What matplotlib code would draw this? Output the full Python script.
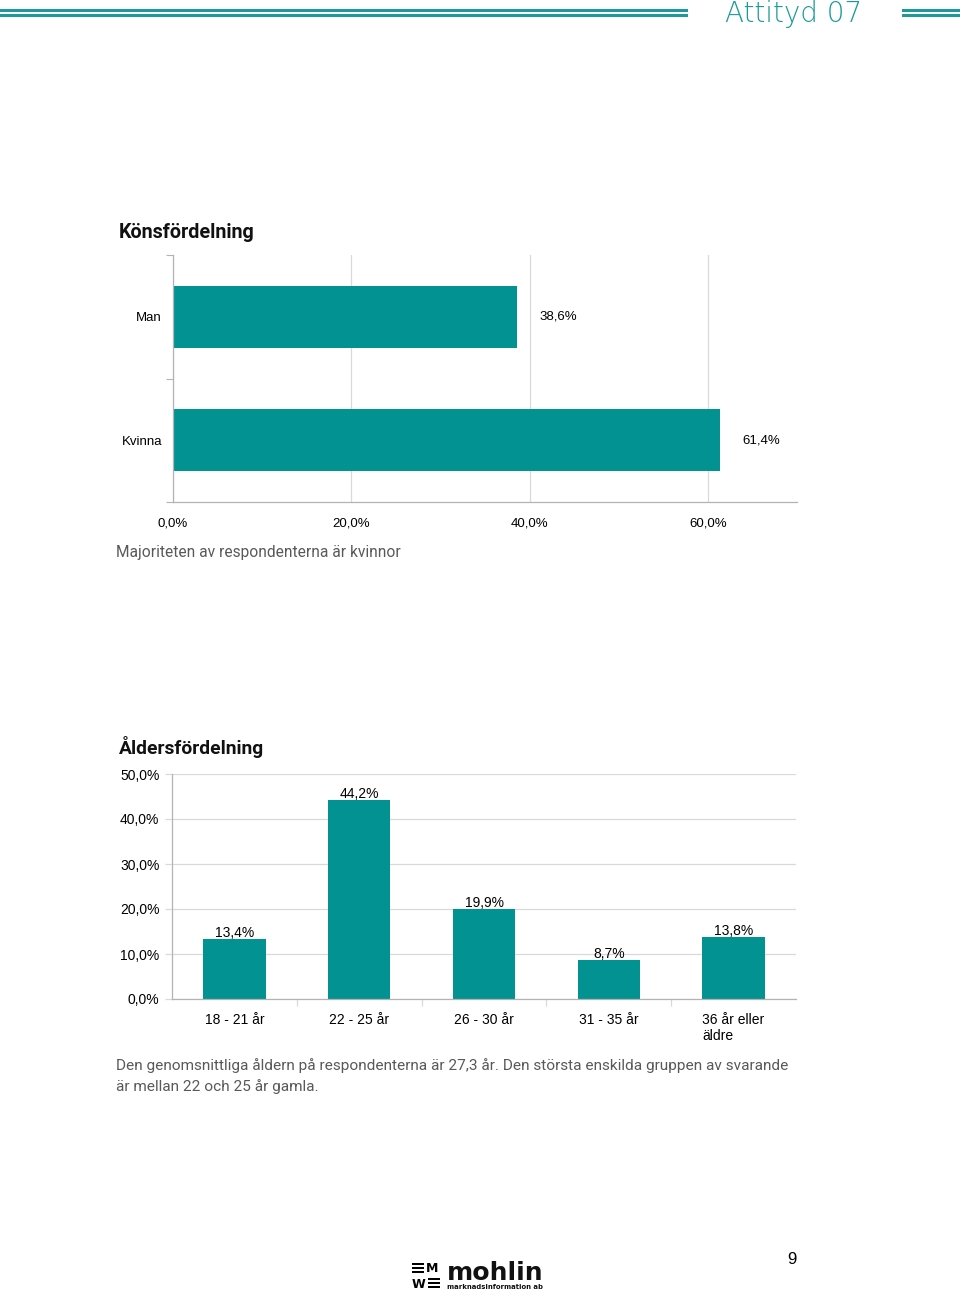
import matplotlib
matplotlib.use("Agg")
import matplotlib.pyplot as plt
from matplotlib.patches import Rectangle
from matplotlib.ticker import FixedLocator

# ---------------- data ----------------
gender_labels = ["Man", "Kvinna"]
gender_values = [38.6, 61.4]
gender_ticks = [0, 20, 40, 60]

age_labels = ["18 - 21 år", "22 - 25 år", "26 - 30 år", "31 - 35 år", "36 år eller\näldre"]
age_values = [13.4, 44.2, 19.9, 8.7, 13.8]
age_ticks = [0, 10, 20, 30, 40, 50]

title1 = "Könsfördelning"
title2 = "Åldersfördelning"
caption1 = "Majoriteten av respondenterna är kvinnor"
caption2_l1 = "Den genomsnittliga åldern på respondenterna är 27,3 år. Den största enskilda gruppen av svarande"
caption2_l2 = "är mellan 22 och 25 år gamla."
header_text = "Attityd 07"
page_no = "9"

W, H = 960, 1293
TEAL = "#029292"
HEAD = "#1b9a9a"
GRID = "#d9d9d9"
SPINE = "#b3b3b3"
CAPC = "#595959"
LBL = "Liberation Sans"

fig = plt.figure(figsize=(W / 100, H / 100), dpi=100)


def rect(x0, y0, x1, y1):
    return [x0 / W, 1 - y1 / H, (x1 - x0) / W, (y1 - y0) / H]


# overlay axes in pixel coordinates
ov = fig.add_axes([0, 0, 1, 1], zorder=0)
ov.set_xlim(0, W)
ov.set_ylim(H, 0)
ov.axis("off")

renderer = fig.canvas.get_renderer()


def fit_text(x, y, s, width, size0=10, **kw):
    t = ov.text(x, y, s, fontsize=size0, **kw)
    bb = t.get_window_extent(renderer=renderer)
    t.set_fontsize(size0 * width / bb.width)
    return t


# header
ov.add_patch(Rectangle((0, 8.5), 688, 3.5, color=HEAD, lw=0))
ov.add_patch(Rectangle((0, 14), 688, 2.5, color=HEAD, lw=0))
ov.add_patch(Rectangle((902, 8.5), 58, 3.5, color=HEAD, lw=0))
ov.add_patch(Rectangle((902, 14), 58, 2.5, color=HEAD, lw=0))
ov.text(794, 22, header_text, fontsize=20, family="DejaVu Sans",
        fontweight="light", color=HEAD, va="baseline", ha="center")

# ---------------- chart 1: horizontal bars ----------------
ax1 = fig.add_axes(rect(173, 255, 797, 502), zorder=1)
ypos = list(range(len(gender_labels)))
ax1.barh(ypos, gender_values, height=0.5, color=TEAL, zorder=2)
ax1.set_xlim(0, 70)
ax1.set_ylim(1.5, -0.5)
ax1.set_xticks(gender_ticks)
ax1.set_xticklabels([f"{v:.1f}%".replace(".", ",") for v in gender_ticks],
                    fontsize=9.5, family=LBL)
ax1.set_yticks(ypos)
ax1.set_yticklabels(gender_labels, fontsize=9.5, family=LBL)
ax1.yaxis.set_minor_locator(FixedLocator([-0.5, 0.5, 1.5]))
ax1.tick_params(axis="y", which="major", length=0, pad=8)
ax1.tick_params(axis="y", which="minor", length=5, color=SPINE, width=0.8)
ax1.tick_params(axis="x", which="major", length=0, pad=11)
ax1.grid(axis="x", color=GRID, lw=0.9, zorder=0)
for s in ["top", "right"]:
    ax1.spines[s].set_visible(False)
for s in ["left", "bottom"]:
    ax1.spines[s].set_color(SPINE)
    ax1.spines[s].set_linewidth(0.9)
for y, v in zip(ypos, gender_values):
    ax1.annotate(f"{v:.1f}%".replace(".", ","), (v, y), xytext=(15.8, 0),
                 textcoords="offset points", va="center", ha="left",
                 fontsize=9.5, family=LBL)

fit_text(119, 233, title1, 136, family="Roboto", fontweight="bold",
         va="center", ha="left", color="#111111")
fit_text(116, 553, caption1, 284, family="Roboto", color=CAPC,
         va="center", ha="left")

# ---------------- chart 2: vertical bars ----------------
ax2 = fig.add_axes(rect(172, 774, 796, 999), zorder=1)
xpos = list(range(len(age_labels)))
ax2.bar(xpos, age_values, width=0.5, color=TEAL, zorder=2)
ax2.set_xlim(-0.5, len(age_labels) - 0.5)
ax2.set_ylim(0, 50)
ax2.set_yticks(age_ticks)
ax2.set_yticklabels([f"{v:.1f}%".replace(".", ",") for v in age_ticks],
                    fontsize=10, family=LBL)
ax2.set_xticks(xpos)
ax2.set_xticklabels(age_labels, fontsize=10, family=LBL, va="top",
                    multialignment="left", linespacing=1.15)
ax2.xaxis.set_minor_locator(FixedLocator([0.5, 1.5, 2.5, 3.5]))
ax2.tick_params(axis="x", which="major", length=0, pad=10)
ax2.tick_params(axis="x", which="minor", length=5, color=GRID, width=0.9)
ax2.tick_params(axis="y", which="major", length=5, color=GRID, width=0.9, pad=4)
ax2.grid(axis="y", color=GRID, lw=0.9, zorder=0)
for s in ["top", "right"]:
    ax2.spines[s].set_visible(False)
for s in ["left", "bottom"]:
    ax2.spines[s].set_color(SPINE)
    ax2.spines[s].set_linewidth(0.9)
for x, v in zip(xpos, age_values):
    ax2.annotate(f"{v:.1f}%".replace(".", ","), (x, v), xytext=(0, 1.5),
                 textcoords="offset points", va="baseline", ha="center",
                 fontsize=10, family=LBL)

fit_text(119, 747, title2, 145, family="Roboto", fontweight="bold",
         va="center", ha="left", color="#111111")
t = fit_text(116, 1066, caption2_l1, 676, family="Roboto", color=CAPC,
             va="center", ha="left")
ov.text(116, 1087, caption2_l2, fontsize=t.get_fontsize(), family="Roboto",
        color=CAPC, va="center", ha="left")

# page number
ov.text(792, 1260, page_no, fontsize=12, family=LBL, ha="center", va="center")

# logo
for i in range(3):
    ov.add_patch(Rectangle((412, 1263 + i * 4), 12, 2.4, color="black", lw=0))
    ov.add_patch(Rectangle((428, 1278 + i * 4), 12, 2.4, color="black", lw=0))
ov.text(432, 1269, "M", fontsize=9, fontweight="bold", family="DejaVu Sans",
        ha="center", va="center")
ov.text(418, 1284, "W", fontsize=9, fontweight="bold", family="DejaVu Sans",
        ha="center", va="center")
fit_text(447, 1280, "mohlin", 96, family="DejaVu Sans", fontweight="bold",
         ha="left", va="baseline", color="#111111")
fit_text(447, 1287, "marknadsinformation ab", 95, family="DejaVu Sans",
         fontweight="bold", ha="left", va="center", color="#111111")

fig.savefig("out.png", dpi=100)
